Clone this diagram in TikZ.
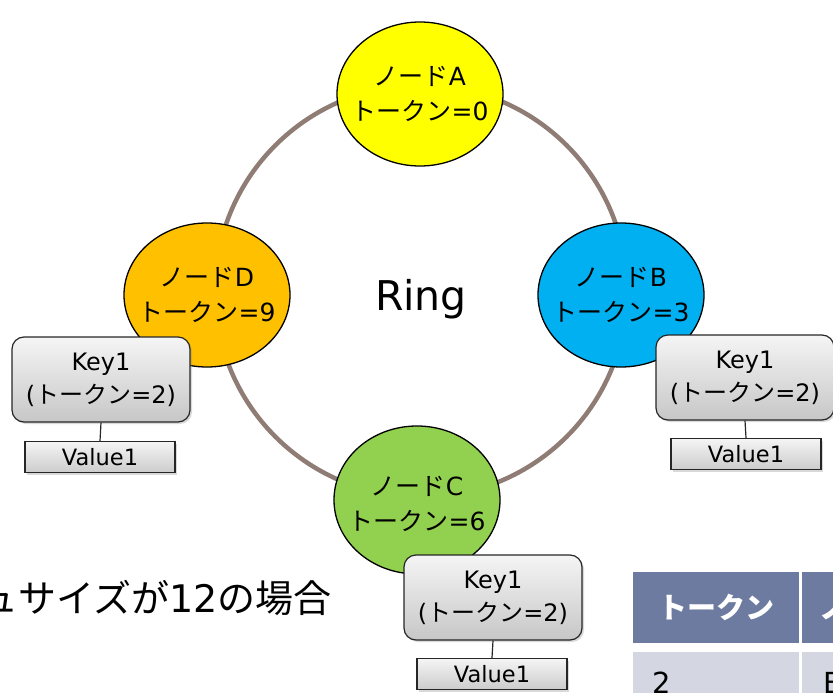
\documentclass[tikz,border=0pt]{standalone}
\usepackage{fontspec}
\setmainfont{Noto Sans CJK JP}
\newfontfamily\lat{DejaVu Sans}
\usetikzlibrary{shapes.geometric,shadows}
\definecolor{ringc}{HTML}{8E7C75}
\definecolor{colA}{HTML}{FFFF00}
\definecolor{colB}{HTML}{00B0F0}
\definecolor{colC}{HTML}{92D050}
\definecolor{colD}{HTML}{FFC000}
\definecolor{hdrc}{HTML}{6E7BA0}
\definecolor{rowc}{HTML}{D4D7E1}
\tikzset{
  tokennode/.style={ellipse, draw=black, line width=1.3pt, minimum width=166pt, minimum height=144pt, inner sep=0pt},
  tokentext/.style={inner sep=0pt, align=center, font=\fontsize{25}{35}\selectfont},
  keybox/.style={rectangle, rounded corners=12pt, draw=black!85, line width=1.2pt, top color=black!4, bottom color=black!22, minimum width=178pt, minimum height=85pt, inner sep=0pt, align=center, font=\fontsize{24}{33}\selectfont, drop shadow={shadow xshift=2pt, shadow yshift=-2pt, opacity=0.3}},
  valbox/.style={rectangle, draw=black!85, line width=1.2pt, top color=black!4, bottom color=black!20, minimum width=150pt, minimum height=31pt, inner sep=0pt, font=\lat\fontsize{22.5}{25}\selectfont, drop shadow={shadow xshift=2pt, shadow yshift=-2pt, opacity=0.3}},
  link/.style={draw=black!85, line width=1.2pt},
  hdrcell/.style={rectangle, fill=hdrc, anchor=north west, inner sep=0pt},
  rowcell/.style={rectangle, fill=rowc, anchor=north west, inner sep=0pt},
}
\begin{document}
\begin{tikzpicture}[x=1pt,y=-1pt]
\useasboundingbox (0,0) rectangle (833,693);
\clip (0,0) rectangle (833,693);

% ring
\node[circle, draw=ringc, line width=4.5pt, minimum size=412pt, inner sep=0pt] (ring) at (421,291) {};
\node[font=\lat\fontsize{41}{45}\selectfont, inner sep=0pt] (ringlabel) at (421,299) {Ring};

% token nodes
\node[tokennode, fill=colA] (nA) at (420,94) {};
\node[tokentext] (tA) at (nA.center) {ノード{\lat A}\\トークン{\lat =0}};
\node[tokennode, fill=colB] (nB) at (621,295) {};
\node[tokentext] (tB) at (nB.center) {ノード{\lat B}\\トークン{\lat =3}};
\node[tokennode, fill=colC, minimum height=148pt] (nC) at (417,500) {};
\node[tokentext] (tC) at ([yshift=-4pt]nC.center) {ノード{\lat C}\\トークン{\lat =6}};
\node[tokennode, fill=colD] (nD) at (207,295) {};
\node[tokentext] (tD) at (nD.center) {ノード{\lat D}\\トークン{\lat =9}};

% key/value boxes
\node[keybox] (kD) at (101,379.5) {{\lat Key1}\\{\lat (}トークン{\lat =2)}};
\node[valbox] (vD) at (100,457) {Value1};
\draw[link] (kD.south) -- (vD.north);

\node[keybox] (kB) at (745,377.5) {{\lat Key1}\\{\lat (}トークン{\lat =2)}};
\node[valbox] (vB) at (746,454) {Value1};
\draw[link] (kB.south) -- (vB.north);

\node[keybox] (kC) at (493,597.5) {{\lat Key1}\\{\lat (}トークン{\lat =2)}};
\node[valbox] (vC) at (492,674) {Value1};
\draw[link] (kC.south) -- (vC.north);

% caption (cut off at left)
\node[anchor=base east, inner sep=0pt, font=\fontsize{38}{42}\selectfont] (cap) at (332,612) {ュサイズが{\lat 12}の場合};

% table (cut off)
\node[hdrcell, minimum width=166pt, minimum height=71pt] (h1) at (633,572) {};
\node[hdrcell, minimum width=60pt, minimum height=71pt] (h2) at (802,572) {};
\node[rowcell, minimum width=166pt, minimum height=60pt] (r1) at (633,652) {};
\node[rowcell, minimum width=60pt, minimum height=60pt] (r2) at (802,652) {};
\node[text=white, font=\fontsize{29}{33}\selectfont\bfseries, inner sep=0pt] (h1t) at (h1.center) {トークン};
\node[text=white, font=\fontsize{29}{33}\selectfont\bfseries, inner sep=0pt, anchor=west] (h2t) at (819,607.5) {ノード};
\node[font=\lat\fontsize{29}{34}\selectfont, inner sep=0pt, anchor=base west] (r1t) at (652,693) {2};
\node[font=\lat\fontsize{29}{34}\selectfont, inner sep=0pt, anchor=base west] (r2t) at (823,693) {B};
\end{tikzpicture}
\end{document}
